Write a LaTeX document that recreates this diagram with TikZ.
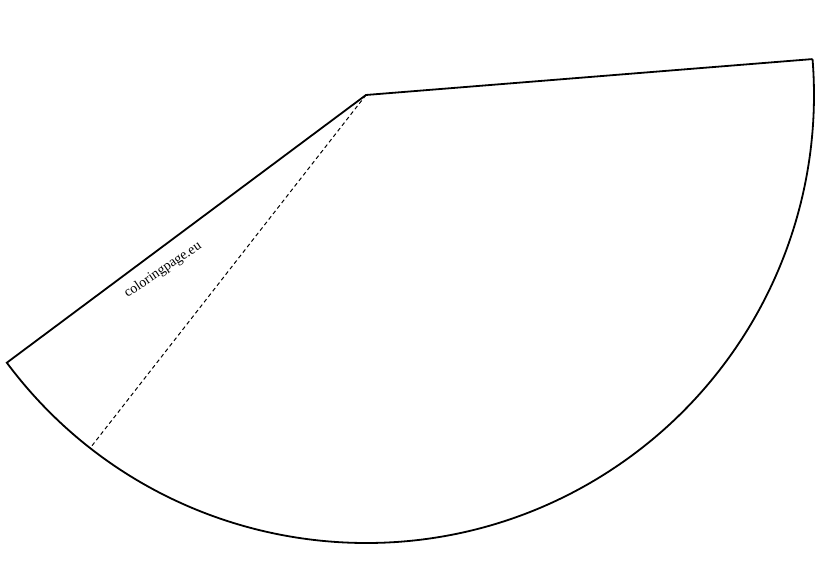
\documentclass[tikz,border=0pt]{standalone}
\usepackage{fontspec}
\setmainfont{Liberation Serif}
\begin{document}
\begin{tikzpicture}[x=1pt,y=1pt]
      \useasboundingbox (0,0) rectangle (822,581);
      \coordinate (apex) at (366,486);
      \coordinate (left) at ([shift={(apex)}]216.7:448);
      \coordinate (right) at ([shift={(apex)}]4.6:448);
      \coordinate (fold) at ([shift={(apex)}]232:448);

      \draw[line width=1.8pt] (right) -- (apex) -- (left) arc[start angle=216.7,end angle=364.6,radius=448];
      \draw[line width=1pt,dash pattern=on 4pt off 3pt] (apex) -- (fold);

      \node[rotate=34,font=\fontsize{14}{16}\selectfont] (label) at (163,311) {coloringpage.eu};
    \end{tikzpicture}
\end{document}
